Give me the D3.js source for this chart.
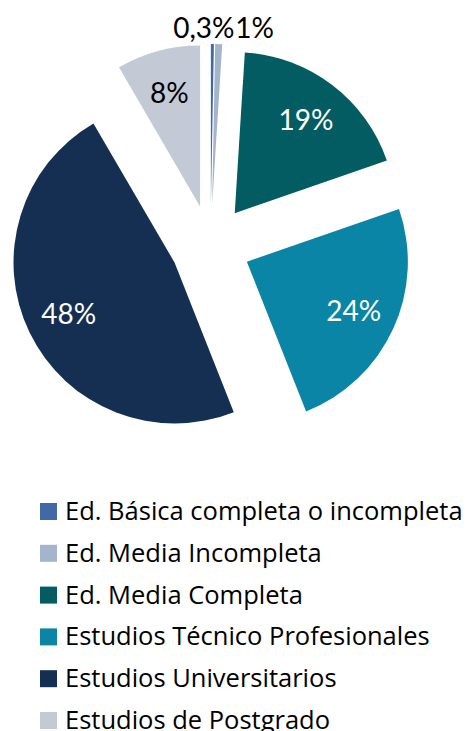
<!DOCTYPE html>
<html>
<head>
<meta charset="utf-8">
<script src="https://cdn.jsdelivr.net/npm/d3@7"></script>
<style>
  body { margin: 0; background: #fff; }
  text { font-family: Lato, "Open Sans", sans-serif; }
  .legend text { font-family: "Open Sans", sans-serif; }
</style>
</head>
<body>
<div id="chart"></div>
<script>
var width = 467,
    height = 731;

var categories = [
  'Ed. Básica completa o incompleta',
  'Ed. Media Incompleta',
  'Ed. Media Completa',
  'Estudios Técnico Profesionales',
  'Estudios Universitarios',
  'Estudios de Postgrado'
];
var values = [0.3, 0.7, 18.7, 24.3, 47.6, 8.4];
var colours = ['#4169a6', '#a3b4cc', '#025c61', '#0a85a6', '#142f52', '#c3cad6'];

var cx = 210.5,
    cy = 245,
    radius = 161,
    explode = 40;

function pct(v) {
  // 0,3% style for tiny values, whole percent otherwise
  return v < 0.5 ? String(v).replace('.', ',') + '%' : Math.round(v) + '%';
}

var svg = d3.select('#chart').append('svg')
    .attr('width', width)
    .attr('height', height);

var pie = d3.pie()
    .sort(null)
    .value(function(d) { return d; });

var arc = d3.arc()
    .innerRadius(0)
    .outerRadius(radius);

var slices = pie(values);

function dir(d) {
  var a = (d.startAngle + d.endAngle) / 2;
  return [Math.sin(a), -Math.cos(a)];
}

var g = svg.append('g')
    .attr('transform', 'translate(' + cx + ',' + cy + ')');

g.selectAll('path.slice')
  .data(slices)
  .enter().append('path')
    .attr('class', 'slice')
    .attr('transform', function(d) {
      var v = dir(d);
      return 'translate(' + v[0] * explode + ',' + v[1] * explode + ')';
    })
    .attr('d', arc)
    .attr('fill', function(d, i) { return colours[i]; });

// labels: big slices inside, tiny ones outside above the pie
var inside = 0.73 * radius + explode,
    outside = radius + explode + 16;

g.selectAll('text.lab')
  .data(slices)
  .enter().append('text')
    .attr('class', 'lab')
    .attr('x', function(d, i) {
      var v = dir(d);
      if (d.data < 2) {
        // push the two tiny labels apart
        return v[0] * outside + (i === 0 ? 22 : 16);
      }
      return v[0] * inside;
    })
    .attr('y', function(d) {
      var v = dir(d);
      return d.data < 2 ? v[1] * outside : v[1] * inside;
    })
    .attr('text-anchor', function(d, i) {
      if (d.data < 2) return i === 0 ? 'end' : 'start';
      return 'middle';
    })
    .attr('dy', '0.36em')
    .attr('font-size', 28)
    .attr('fill', function(d, i) { return (i === 5 || d.data < 2) ? '#000' : '#fff'; })
    .text(function(d) { return pct(d.data); });

// legend

var legend = svg.append('g')
    .attr('class', 'legend')
    .attr('transform', 'translate(40,520)');

var row = legend.selectAll('g')
  .data(categories)
  .enter().append('g')
    .attr('transform', function(d, i) { return 'translate(0,' + i * 41.8 + ')'; });

row.append('rect')
    .attr('x', 0)
    .attr('y', -17)
    .attr('width', 17)
    .attr('height', 17)
    .attr('fill', function(d, i) { return colours[i]; });

row.append('text')
    .attr('x', 25)
    .attr('y', 0)
    .attr('font-size', 25.5)
    .attr('fill', '#000')
    .text(function(d) { return d; });
</script>
</body>
</html>
